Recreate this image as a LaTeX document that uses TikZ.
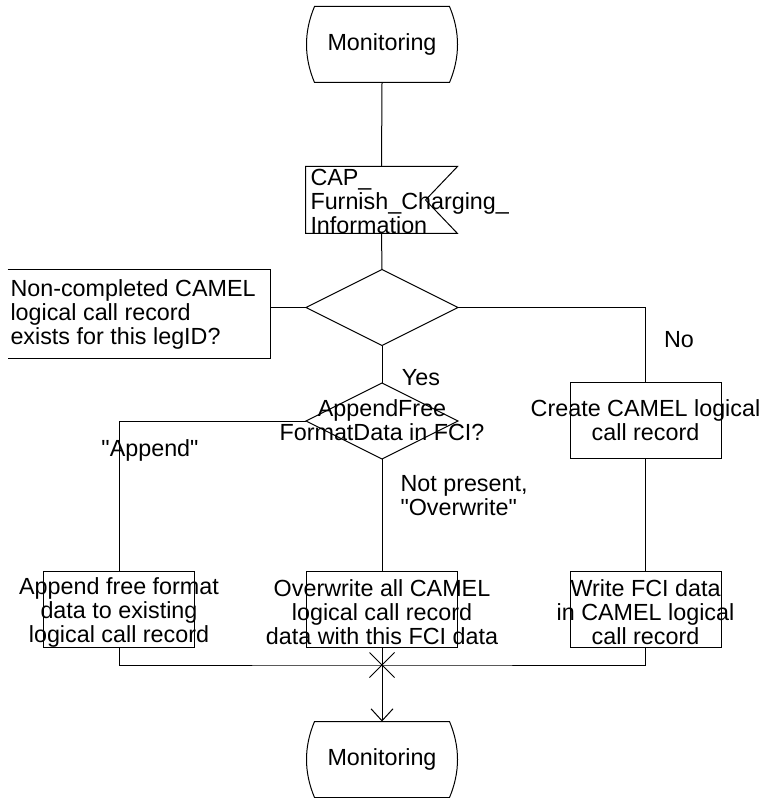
\documentclass[tikz,border=0pt]{standalone}
\usepackage{fontspec}
\setmainfont{Liberation Sans}
\usetikzlibrary{arrows.meta,calc,shapes.misc}
\tikzset{
  statebox/.style={minimum width=100.5pt, minimum height=56.25pt, inner sep=0pt},
  sigbox/.style={minimum width=113.25pt, minimum height=49.5pt, inner sep=0pt},
  decbox/.style={minimum width=113.25pt, minimum height=56.25pt, inner sep=0pt},
  taskbox/.style={draw, minimum width=113.25pt, minimum height=57pt, inner sep=0pt},
  cmtbox/.style={minimum width=196.5pt, minimum height=66pt, inner sep=0pt},
  txt/.style={align=center, inner sep=0pt},
  lbl/.style={inner sep=0pt},
  flowarr/.style={-{Straight Barb[length=9pt, width=16.5pt]}},
}
% state symbol: straight top and bottom, bowed sides
\newcommand{\stateline}[1]{%
  \draw (#1.north west) -- (#1.north east)
    .. controls ($(#1.north east)!1/3!(#1.south east)+(8pt,0pt)$) and ($(#1.north east)!2/3!(#1.south east)+(8pt,0pt)$) .. (#1.south east)
    -- (#1.south west)
    .. controls ($(#1.south west)!1/3!(#1.north west)+(-8pt,0pt)$) and ($(#1.south west)!2/3!(#1.north west)+(-8pt,0pt)$) .. cycle;}
\begin{document}
\begin{tikzpicture}[x=0.75pt, y=-0.75pt, line width=0.75pt, font=\fontsize{17.5}{18}\selectfont]
  \useasboundingbox (0,0) rectangle (762,798);
  % start state
  \node[statebox] (mon1) at (382,44.5) {Monitoring};
  \stateline{mon1}
  % input signal
  \node[sigbox] (fci) at (381.5,200) {};
  \draw (fci.north west) -- (fci.north east) -- ([xshift=-24pt]fci.east) -- (fci.south east) -- (fci.south west) -- cycle;
  \node[lbl, align=left, anchor=west] (fcitext) at (310,201) {CAP\_\\Furnish\_Charging\_\\Information};
  % first decision and its comment
  \node[decbox] (dec1) at (382,307.5) {};
  \draw (dec1.north) -- (dec1.east) -- (dec1.south) -- (dec1.west) -- cycle;
  \node[cmtbox] (cmt) at (139,314) {};
  \draw (cmt.north west) -- (cmt.north east) -- (cmt.south east) -- (cmt.south west);
  \node[lbl, align=left, anchor=west] (cmttext) at (10,314) {Non-completed CAMEL\\logical call record\\exists for this legID?};
  % second decision
  \node[decbox] (dec2) at (382,421) {};
  \draw (dec2.north) -- (dec2.east) -- (dec2.south) -- (dec2.west) -- cycle;
  \node[txt] (dec2text) at (382,420) {AppendFree\\FormatData in FCI?};
  % tasks
  \node[taskbox] (create) at (645.5,420.5) {};
  \node[txt] (createtext) at (645.5,420) {Create CAMEL logical\\call record};
  \node[taskbox] (append) at (119,609) {};
  \node[txt] (appendtext) at (119,612) {Append free format\\data to existing\\logical call record};
  \node[taskbox] (over) at (382,609) {};
  \node[txt] (overtext) at (382,612) {Overwrite all CAMEL\\logical call record\\data with this FCI data};
  \node[taskbox] (write) at (645.5,609) {};
  \node[txt] (writetext) at (645.5,612) {Write FCI data\\in CAMEL logical\\call record};
  % merge and end state
  \node[draw, cross out, minimum size=18pt, inner sep=0pt] (join) at (382,665) {};
  \node[statebox] (mon2) at (382,759.5) {Monitoring};
  \stateline{mon2}
  % connectors
  \draw (mon1.south) -- (fci.north);
  \draw (fci.south) -- (dec1.north);
  \draw (cmt.east |- dec1.west) -- (dec1.west);
  \draw (dec1.east) -| (create.north);
  \draw (dec1.south) -- (dec2.north);
  \draw (dec2.west) -| (append.north);
  \draw (dec2.south) -- (over.north);
  \draw (create.south) -- (write.north);
  \draw (append.south) |- (join.center) -| (write.south);
  \draw (over.south) -- (join.center);
  \draw[flowarr] (join.center) -- (mon2.north);
  % branch labels
  \node[lbl] (no) at (679,340) {No};
  \node[lbl] (yes) at (421,378) {Yes};
  \node[lbl] (appendlbl) at (150,450) {\textquotedbl Append\textquotedbl};
  \node[lbl, align=left, anchor=west] (overlbl) at (400,495.5) {Not present,\\\textquotedbl Overwrite\textquotedbl};
\end{tikzpicture}
\end{document}
